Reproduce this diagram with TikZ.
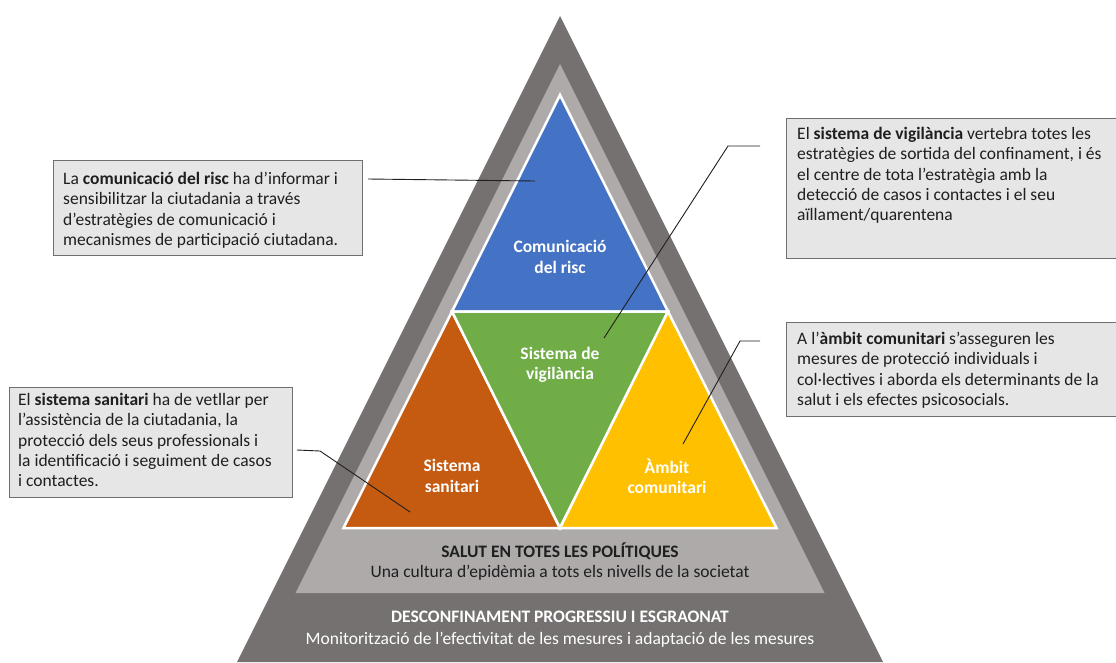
\documentclass[tikz,border=0pt]{standalone}
\usepackage{fontspec}
\setmainfont{Carlito}
\definecolor{dgray}{HTML}{767171}
\definecolor{lgray}{HTML}{AEAAAA}
\definecolor{cblue}{HTML}{4472C4}
\definecolor{cgreen}{HTML}{70AD47}
\definecolor{corange}{HTML}{C55A11}
\definecolor{cyellow}{HTML}{FFC000}
\definecolor{boxfill}{HTML}{E7E6E6}
\definecolor{boxline}{HTML}{6F6F6F}
\definecolor{ink}{HTML}{1F1F1F}
\newcommand{\topstrut}{\rule{0pt}{13pt}}
\tikzset{
  boxnode/.style={draw=boxline, line width=1pt, fill=boxfill, inner sep=0pt, anchor=north west},
  txt/.style={inner sep=0pt, align=left, anchor=north west, text=ink, font=\fontsize{17.5}{20.4}\selectfont},
  tri/.style={draw=white, line width=2.5pt, line join=miter},
  lbl/.style={inner sep=0pt, align=center, text=white, font=\fontsize{17.5}{20.5}\selectfont\bfseries},
  conn/.style={draw=ink, line width=0.9pt},
  band/.style={inner sep=0pt, font=\fontsize{17.5}{20.5}\selectfont},
}
\begin{document}
\begin{tikzpicture}[x=1pt,y=-1pt]
\useasboundingbox (0,0) rectangle (1116,662);
\begin{scope}
\clip (0,0) rectangle (1116,662);
\fill[dgray] (560,16) -- (237,662) -- (883,662) -- cycle;
\end{scope}
\fill[lgray] (560,64) -- (295.5,593) -- (824.5,593) -- cycle;
% coloured triangles
\filldraw[tri, fill=cblue] (560,95) -- (452,311.5) -- (668,311.5) -- cycle;
\filldraw[tri, fill=corange] (452,311.5) -- (343.5,528) -- (560,528) -- cycle;
\filldraw[tri, fill=cgreen] (452,311.5) -- (668,311.5) -- (560,528) -- cycle;
\filldraw[tri, fill=cyellow] (668,311.5) -- (560,528) -- (776.5,528) -- cycle;
% triangle labels
\node[lbl] (lcom) at (560,257) {Comunicació\\del risc};
\node[lbl] (lvig) at (560,365) {Sistema de\\vigilància};
\node[lbl] (lsan) at (452,476) {Sistema\\sanitari};
\node[lbl] (lamb) at (667,476) {Àmbit\\comunitari};
% bands
\node[band, text=ink, font=\fontsize{17.5}{20.5}\selectfont\bfseries] (salut) at (560,551) {SALUT EN TOTES LES POLÍTIQUES};
\node[band, text=ink] (cult) at (560,573) {Una cultura d’epidèmia a tots els nivells de la societat};
\node[band, text=white, font=\fontsize{17.5}{20.5}\selectfont\bfseries] (desc) at (560,617) {DESCONFINAMENT PROGRESSIU I ESGRAONAT};
\node[band, text=white] (moni) at (560,640) {Monitorització de l’efectivitat de les mesures i adaptació de les mesures};
% boxes
\node[boxnode, minimum width=309, minimum height=95] (b1) at (53,160) {};
\node[txt] (t1) at (63,171) {\topstrut La \textbf{comunicació del risc} ha d’informar i\\sensibilitzar la ciutadania a través\\d’estratègies de comunicació i\\mecanismes de participació ciutadana.};
\node[boxnode, minimum width=330, minimum height=140] (b2) at (786,118) {};
\node[txt] (t2) at (797,126) {\topstrut El \textbf{sistema de vigilància} vertebra totes les\\estratègies de sortida del confinament, i és\\el centre de tota l’estratègia amb la\\detecció de casos i contactes i el seu\\aïllament/quarentena};
\node[boxnode, minimum width=283, minimum height=110] (b3) at (9,387) {};
\node[txt] (t3) at (18,392) {\topstrut El \textbf{sistema sanitari} ha de vetllar per\\l’assistència de la ciutadania, la\\protecció dels seus professionals i\\la identificació i seguiment de casos\\i contactes.};
\node[boxnode, minimum width=330, minimum height=94] (b4) at (786,322) {};
\node[txt] (t4) at (797,331) {\topstrut A l’\textbf{àmbit comunitari} s’asseguren les\\mesures de protecció individuals i\\col·lectives i aborda els determinants de la\\salut i els efectes psicosocials.};
% connectors
\coordinate (s1) at (368,179);
\coordinate (e1) at (535,181);
\coordinate (s2) at (760,146);
\coordinate (k2) at (728,146);
\coordinate (e2) at (604,338);
\coordinate (s3) at (760,341);
\coordinate (k3) at (740,341);
\coordinate (e3) at (683,444);
\coordinate (s4) at (297,450);
\coordinate (k4) at (320,451);
\coordinate (e4) at (410,512);
\draw[conn] (s1) -- (e1);
\draw[conn] (s2) -- (k2) -- (e2);
\draw[conn] (s3) -- (k3) -- (e3);
\draw[conn] (s4) -- (k4) -- (e4);
\end{tikzpicture}
\end{document}
